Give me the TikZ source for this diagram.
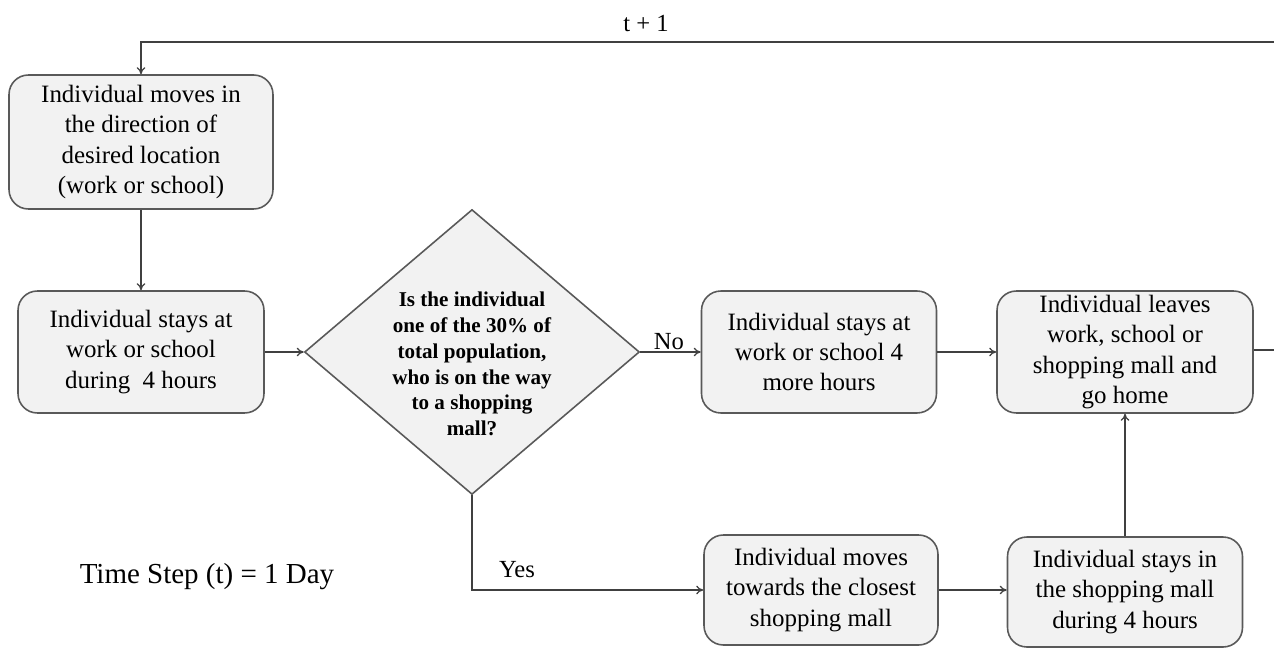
\documentclass[tikz,border=0pt]{standalone}
\usepackage{fontspec}
\setmainfont{Liberation Serif}
\usetikzlibrary{arrows.meta,shapes.geometric}
\definecolor{boxfill}{HTML}{F2F2F2}
\definecolor{boxline}{HTML}{595959}
\definecolor{lineclr}{HTML}{404040}
\begin{document}
\begin{tikzpicture}[x=0.02cm,y=-0.02cm,
  box/.style={draw=boxline, fill=boxfill, rounded corners=11pt, line width=0.9pt,
    align=center, font=\fontsize{14.2}{17.3}\selectfont, inner sep=2pt},
  decision/.style={draw=boxline, fill=boxfill, shape=diamond, line width=0.9pt,
    minimum width=6.7cm, minimum height=5.7cm, inner sep=0pt},
  qtext/.style={align=center, font=\fontsize{12}{14.7}\selectfont\bfseries},
  conn/.style={draw=lineclr, line width=0.75pt, -{To[length=4pt,width=5pt]}},
  lbl/.style={font=\fontsize{14}{17}\selectfont, inner sep=1pt}]
\path[use as bounding box] (0,0) rectangle (1274,648);
\clip (0,0) rectangle (1274,648);

\node[box, minimum width=5.28cm, minimum height=2.68cm] (A) at (141,142)
  {Individual moves in\\the direction of\\desired location\\(work or school)};
\node[box, minimum width=4.92cm, minimum height=2.44cm] (B) at (141,352)
  {Individual stays at\\work or school\\during\ \ 4 hours};
\node[decision] (Q) at (472,352) {};
\node[qtext] (Qt) at (472,364) {Is the individual\\one of the 30\% of\\total population,\\who is on the way\\to a shopping\\mall?};
\node[box, minimum width=4.7cm, minimum height=2.44cm] (C) at (819,352)
  {Individual stays at\\work or school 4\\more hours};
\node[box, minimum width=5.12cm, minimum height=2.44cm] (D) at (1125,352)
  {Individual leaves\\work, school or\\shopping mall and\\go home};
\node[box, minimum width=4.68cm, minimum height=2.2cm] (E) at (821,590)
  {Individual moves\\towards the closest\\shopping mall};
\node[box, minimum width=4.7cm, minimum height=2.2cm] (F) at (1125,592)
  {Individual stays in\\the shopping mall\\during 4 hours};

\node[lbl] (tp) at (646,24) {t + 1};
\node[font=\fontsize{16.5}{19}\selectfont] (ts) at (207,577) {Time Step (t) = 1 Day};
\node[lbl] (yes) at (517,570) {Yes};
\node[lbl] (no) at (669,342) {No};

\coordinate (r1) at (1300,350);
\coordinate (r2) at (1300,42);

\draw[conn] (A.south) -- (B.north);
\draw[conn] (B.east) -- (Q.west);
\draw[conn] (Q.east) -- (C.west);
\draw[conn] (C.east) -- (C.east -| D.west);
\draw[conn] (Q.south) |- (E.west);
\draw[conn] (E.east) -- (E.east -| F.west);
\draw[conn] (F.north) -- (D.south);
\draw[conn] (D.east |- r1) -- (r1) -- (r2) -| (A.north);
\end{tikzpicture}
\end{document}
